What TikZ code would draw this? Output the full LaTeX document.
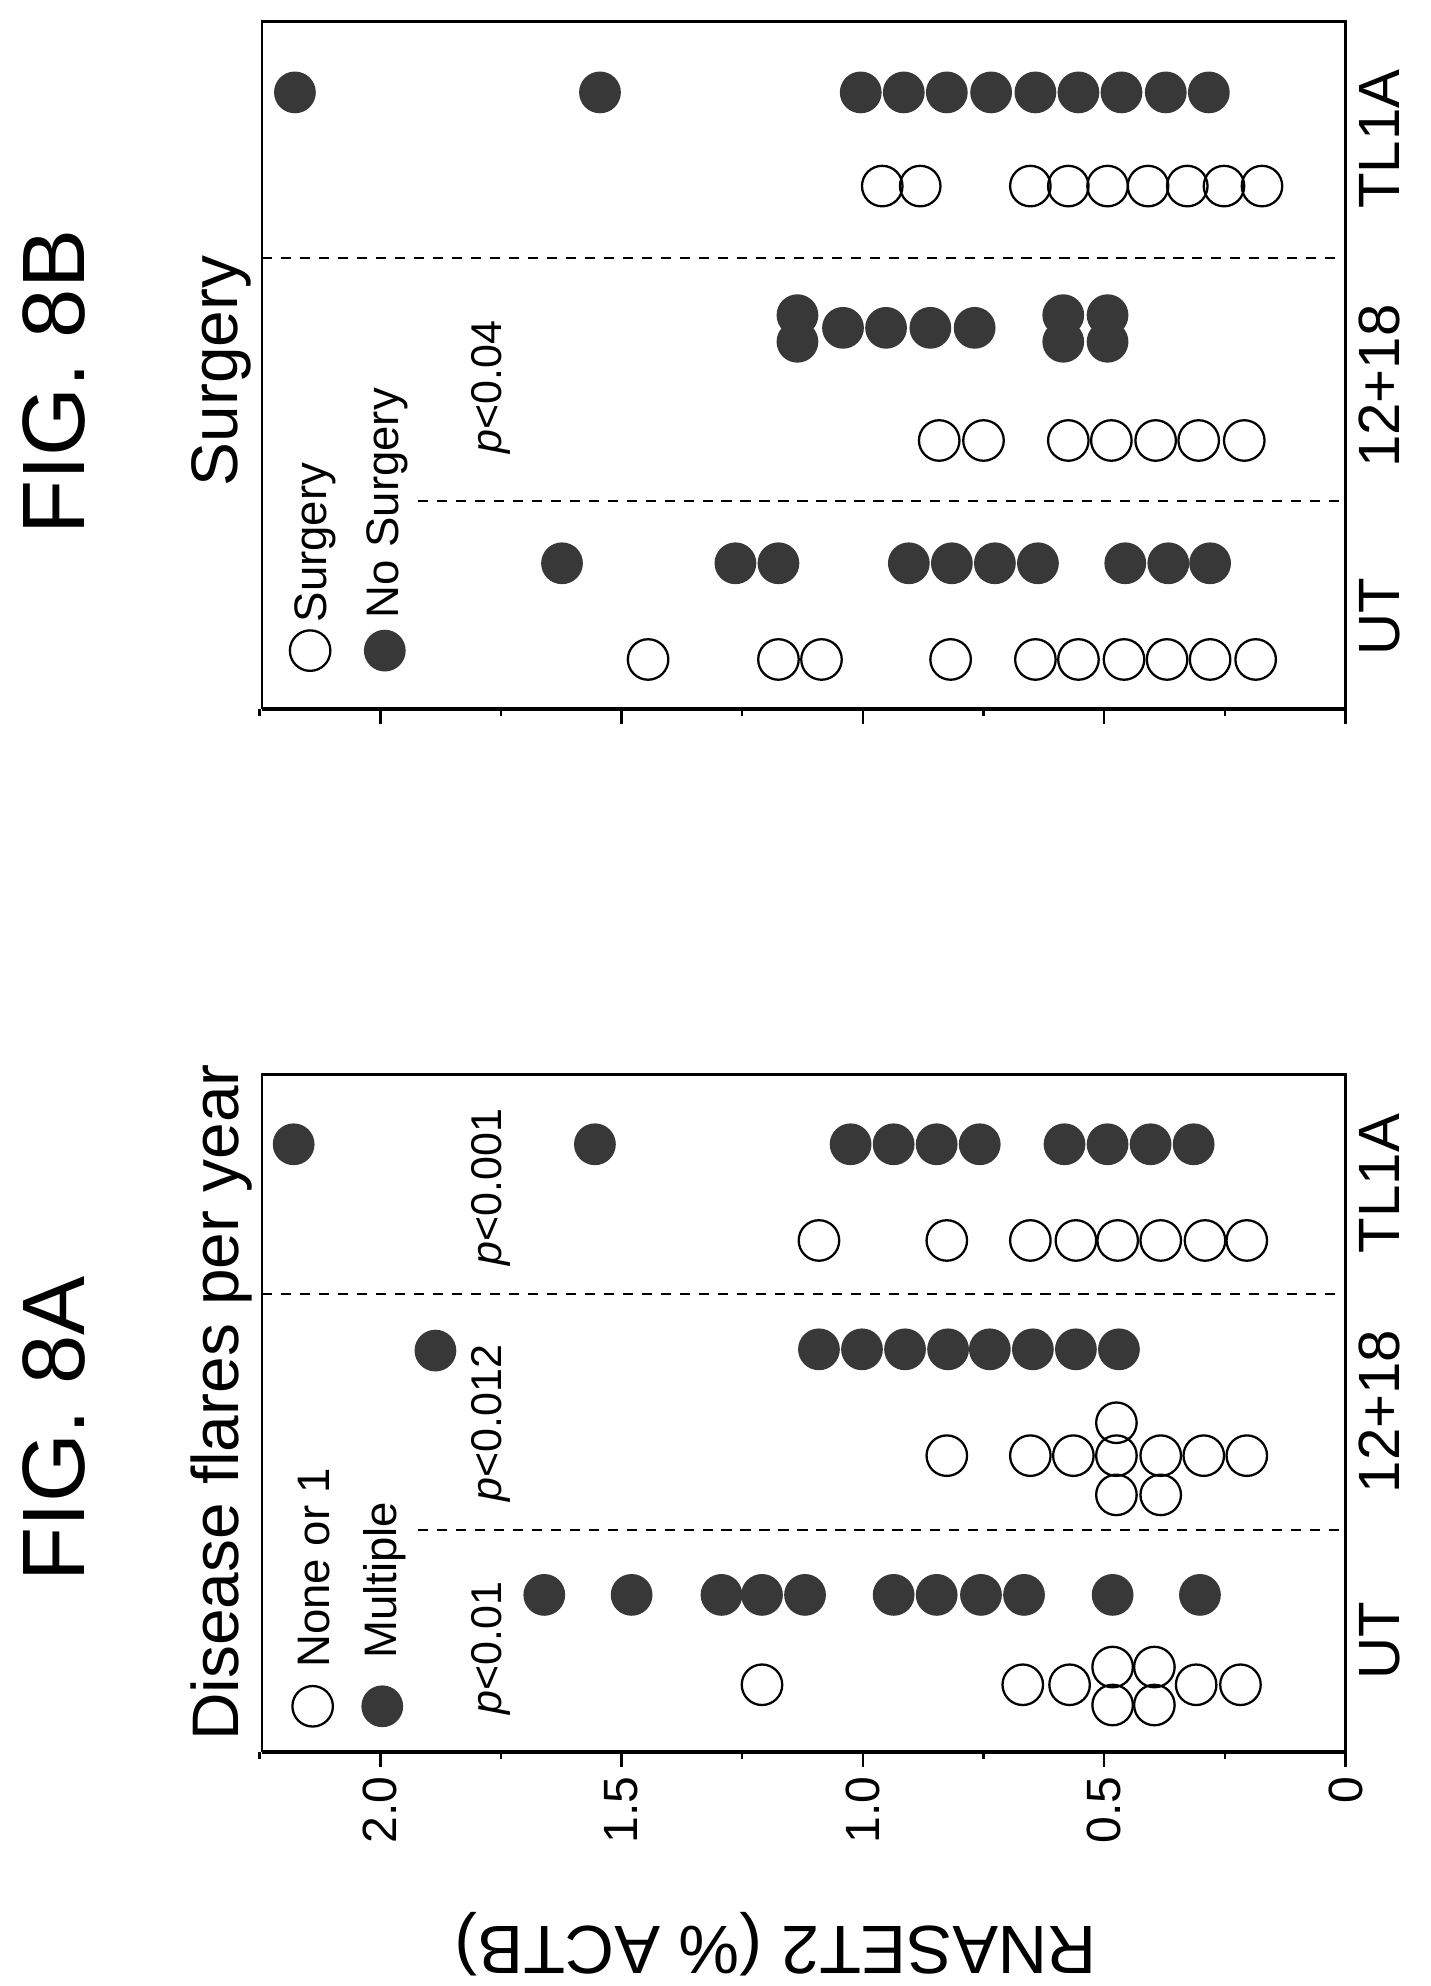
\documentclass[tikz,border=0pt]{standalone}
\usepackage{fontspec}
\setmainfont{Liberation Sans}
\usetikzlibrary{positioning}
\tikzset{openpt/.style ={
        circle,
        draw=black,
        line width=0.9pt,
        minimum size=16pt,
        inner sep=0pt,
    },
    fillpt/.style ={
        circle,
        fill=black!78,
        minimum size=16.5pt,
        inner sep=0pt,
    },
    frame/.style ={
        draw,
        line width=1pt,
    },
    axisline/.style ={
        draw,
        line width=1.5pt,
    },
    divider/.style ={
        draw,
        line width=0.7pt,
        dash pattern=on 4pt off 3.5pt,
    },
    figlabel/.style ={
        rotate=90,
        font=\fontsize{35}{40}\selectfont,
    },
    title/.style ={
        rotate=90,
        font=\fontsize{26}{30}\selectfont,
    },
    legtxt/.style ={
        rotate=90,
        anchor=west,
        inner sep=0pt,
        font=\fontsize{18}{21}\selectfont,
    },
    ptxt/.style ={
        rotate=90,
        font=\fontsize{17}{20}\selectfont,
    },
    cattxt/.style ={
        rotate=90,
        anchor=base,
        font=\fontsize{23}{26}\selectfont,
    },
    ticktxt/.style ={
        rotate=90,
        anchor=east,
        inner sep=0pt,
        font=\fontsize{19}{22}\selectfont,
    }}

\begin{document}
\begin{tikzpicture}[x=0.5pt,y=-0.5pt]
	\useasboundingbox (0,0) rectangle (1130,1569);
	% panel A
	\node[figlabel] (figA) at (43,1129) {FIG. 8A};
	\node[title] (titleA) at (175,1108) {Disease flares per year};
	\draw[divider] (207,1022) -- (1063,1022);
	\draw[divider] (330,1209) -- (1063,1209);
	\draw[frame] (1063,1384) -- (1063,849) -- (207,849) -- (207,1384);
	\draw[axisline] (207,1384) -- (1063,1384);
	\foreach \v in {0,0.5,...,2.0}
		\draw[line width=1pt] ({1063-381.3*\v},1384) -- ++(0,12);
	\foreach \v in {0.25,0.75,...,2.25}
		\draw[line width=1pt] ({1063-381.3*\v},1384) -- ++(0,6);
	\foreach \v/\t in {2.0/2.0,1.5/1.5,1.0/1.0,0.5/0.5,0/0}
		\node[ticktxt] (tick\t) at ({1063-381.3*\v},1403) {\t};
	\node[rotate=180,font=\fontsize{27}{30}\selectfont] (yaxis) at (613,1536) {RNASET2 (\% ACTB)};
	\node[cattxt] (aUT) at (1106,1296) {UT};
	\node[cattxt] (a1218) at (1106,1115) {12+18};
	\node[cattxt] (aTL) at (1106,935) {TL1A};
	% legend A
	\node[openpt] (aLegO) at (247,1348) {};
	\node[fillpt] (aLegF) at (302,1348) {};
	\node[legtxt] (aLegOt) at (248,1318) {None or 1};
	\node[legtxt] (aLegFt) at (304,1311) {Multiple};
	\node[ptxt] (pA1) at (388,1302) {\textit{p}<0.01};
	\node[ptxt] (pA2) at (388,1124) {\textit{p}<0.012};
	\node[ptxt] (pA3) at (388,938) {\textit{p}<0.001};
	% points A
	\foreach \x/\y [count=\i] in {602/1331,808/1331,845/1331,879/1317,879/1347,912/1317,912/1347,945/1331,980/1331}
		\node[openpt] (autO\i) at (\x,\y) {};
	\foreach \x [count=\i] in {430,499,570,602,636,706,740,775,809,879,948}
		\node[fillpt] (autF\i) at (\x,1260) {};
	\foreach \x/\y [count=\i] in {748/1150,814/1150,848/1150,882/1124,882/1150,882/1181,917/1150,917/1181,951/1150,985/1150}
		\node[openpt] (a12O\i) at (\x,\y) {};
	\foreach \x/\y [count=\i] in {344/1067,647/1066,681/1066,715/1066,749/1066,782/1066,816/1066,850/1066,884/1066}
		\node[fillpt] (a12F\i) at (\x,\y) {};
	\foreach \x [count=\i] in {647,748,814,850,883,917,952,985}
		\node[openpt] (atlO\i) at (\x,980) {};
	\foreach \x [count=\i] in {232,470,672,706,740,774,841,875,909,943}
		\node[fillpt] (atlF\i) at (\x,904) {};
	% panel B
	\node[figlabel] (figB) at (43,302) {FIG. 8B};
	\node[title] (titleB) at (175,293) {Surgery};
	\draw[divider] (207,204) -- (1063,204);
	\draw[divider] (330,396) -- (1063,396);
	\draw[frame] (1063,560) -- (1063,17) -- (207,17) -- (207,560);
	\draw[axisline] (207,560) -- (1063,560);
	\foreach \v in {0,0.5,...,2.0}
		\draw[line width=1pt] ({1063-381.3*\v},560) -- ++(0,12);
	\foreach \v in {0.25,0.75,...,2.25}
		\draw[line width=1pt] ({1063-381.3*\v},560) -- ++(0,6);
	\node[cattxt] (bUT) at (1106,487) {UT};
	\node[cattxt] (b1218) at (1106,305) {12+18};
	\node[cattxt] (bTL) at (1106,110) {TL1A};
	% legend B
	\node[openpt] (bLegO) at (245,514) {};
	\node[fillpt] (bLegF) at (304,514) {};
	\node[legtxt] (bLegOt) at (249,492) {Surgery};
	\node[legtxt] (bLegFt) at (306,489) {No Surgery};
	\node[ptxt] (pB) at (388,306) {\textit{p}<0.04};
	% points B
	\foreach \x [count=\i] in {512,615,649,751,818,852,888,922,956,992}
		\node[openpt] (butO\i) at (\x,521) {};
	\foreach \x [count=\i] in {444,581,615,718,752,786,820,889,923,956}
		\node[fillpt] (butF\i) at (\x,445) {};
	\foreach \x [count=\i] in {742,777,844,878,913,947,983}
		\node[openpt] (b12O\i) at (\x,348) {};
	\foreach \x/\y [count=\i] in {630/249,630/270,840/249,840/270,875/249,875/270,666/259,700/259,735/259,770/259}
		\node[fillpt] (b12F\i) at (\x,\y) {};
	\foreach \x [count=\i] in {697,727,814,844,875,907,938,967,997}
		\node[openpt] (btlO\i) at (\x,147) {};
	\foreach \x [count=\i] in {233,474,680,714,748,783,818,852,886,921,955}
		\node[fillpt] (btlF\i) at (\x,73) {};
\end{tikzpicture}
\end{document}
